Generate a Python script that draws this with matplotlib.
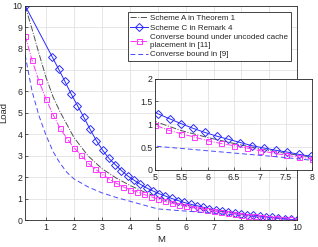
import matplotlib
matplotlib.use("Agg")
import matplotlib.pyplot as plt

plt.rcParams['font.family'] = ['Liberation Sans', 'DejaVu Sans']

# Scheme C in Remark 4 (diamonds)
m_c = [0.25, 1.225, 1.45, 1.675, 1.9, 2.125, 2.35, 2.575, 2.8, 3.025, 3.25,
       3.475, 3.7, 3.925, 4.15, 4.375, 4.6, 4.825, 5.05, 5.275, 5.5, 5.725,
       5.95, 6.175, 6.4, 6.625, 6.85, 7.075, 7.3, 7.525, 7.75, 7.975, 8.2,
       8.425, 8.65, 8.875, 9.1, 9.325, 9.55, 9.775, 10.0]
load_c = [10.0, 7.6, 7.04, 6.47, 5.88, 5.34, 4.8, 4.24, 3.71, 3.26, 2.88,
          2.59, 2.31, 2.06, 1.86, 1.67, 1.5, 1.36, 1.23, 1.12, 1.01, 0.91,
          0.82, 0.74, 0.67, 0.60, 0.53, 0.48, 0.43, 0.39, 0.34, 0.30, 0.26,
          0.23, 0.19, 0.16, 0.13, 0.10, 0.065, 0.03, 0.0]

# converse bound under uncoded placement [11] (squares)
m_u = [0.25, 0.5, 0.75, 1.0, 1.25, 1.5, 1.75, 2.0, 2.25, 2.5, 2.75, 3.0,
       3.25, 3.5, 3.75, 4.0, 4.25, 4.5, 4.75, 5.0, 5.25, 5.5, 5.75, 6.0,
       6.25, 6.5, 6.75, 7.0, 7.25, 7.5, 7.75, 8.0, 8.25, 8.5, 8.75, 9.0,
       9.25, 9.5, 9.75, 10.0]
load_u = [8.6, 7.45, 6.47, 5.64, 4.92, 4.29, 3.8, 3.38, 3.03, 2.67, 2.39, 2.15,
          1.92, 1.73, 1.56, 1.41, 1.32, 1.2, 1.09, 0.98, 0.87, 0.79, 0.72, 0.64,
          0.58, 0.53, 0.48, 0.42, 0.37, 0.32, 0.28, 0.24, 0.21, 0.18, 0.15, 0.12,
          0.09, 0.06, 0.03, 0.0]

# Scheme A in Theorem 1
m_a = [0.25, 0.5, 0.75, 1.0, 1.25, 1.5, 1.75, 2.0, 2.5, 3.0, 3.5, 4.0, 4.5,
       5.0, 5.5, 6.0, 6.5, 7.0, 7.5, 8.0, 8.5, 9.0, 9.5, 10.0]
load_a = [10.0, 8.9, 7.75, 6.65, 5.75, 5.05, 4.45, 3.85, 3.0, 2.4, 1.97, 1.62,
          1.32, 1.06, 0.86, 0.71, 0.58, 0.46, 0.36, 0.28, 0.21, 0.14, 0.07, 0.0]

# converse bound in [9]
m_b = [0.25, 0.5, 0.75, 1.0, 1.25, 1.5, 1.75, 2.0, 2.5, 3.0, 3.5, 4.0, 4.5,
       5.0, 5.5, 6.0, 6.5, 7.0, 7.5, 8.0, 8.5, 9.0, 9.5, 10.0]
load_b = [7.7, 6.0, 4.85, 3.95, 3.2, 2.65, 2.22, 1.92, 1.55, 1.27, 1.06, 0.88,
          0.7, 0.52, 0.47, 0.42, 0.37, 0.32, 0.27, 0.21, 0.16, 0.11, 0.05, 0.0]

labels = ['Scheme A in Theorem 1', 'Scheme C in Remark 4',
          'Converse bound under uncoded cache\nplacement in [11]',
          'Converse bound in [9]']

col_a = '#505050'
col_c = '#2a2aff'
col_u = '#ff33ff'
col_b = '#4a4aff'
txt = '#262626'


def draw(ax):
    ax.plot(m_a, load_a, '-.', color=col_a, lw=0.7, label=labels[0])
    ax.plot(m_c, load_c, '-', color=col_c, lw=0.7, marker='D', ms=3.6,
            mfc='none', mew=0.7, label=labels[1])
    ax.plot(m_u, load_u, '-.', color=col_u, lw=0.7, marker='s', ms=3.6,
            mfc='none', mew=0.7, label=labels[2])
    ax.plot(m_b, load_b, '--', color=col_b, lw=0.7, dashes=(5, 3), label=labels[3])


def style(ax):
    ax.grid(True, color='#dcdcdc', lw=0.5)
    ax.set_axisbelow(True)
    ax.tick_params(direction='in', length=2, width=0.5, labelsize=6.3,
                   colors=txt, pad=2)
    for s in ax.spines.values():
        s.set_color(txt)
        s.set_linewidth(0.6)


fig = plt.figure(figsize=(3.18, 2.47), dpi=100)
ax = fig.add_axes([0.079, 0.109, 0.856, 0.868])
draw(ax)
ax.set_xlim(0.25, 10)
ax.set_ylim(0, 10)
ax.set_xticks(range(1, 11))
ax.set_yticks(range(0, 11))
style(ax)
ax.set_xlabel('M', fontsize=6.8, color=txt, labelpad=2)
ax.set_ylabel('Load', fontsize=6.8, color=txt, labelpad=3)

leg = ax.legend(loc='upper right', bbox_to_anchor=(0.975, 0.97), fontsize=5.8,
                handlelength=2.2, handletextpad=0.3, borderpad=0.3,
                labelspacing=0.25, fancybox=False, framealpha=1,
                edgecolor=txt, borderaxespad=0)
leg.get_frame().set_linewidth(0.6)
for t in leg.get_texts():
    t.set_color(txt)

ins = fig.add_axes([0.488, 0.312, 0.494, 0.370])
draw(ins)
ins.set_xlim(5, 8)
ins.set_ylim(0, 2)
ins.set_xticks([5, 5.5, 6, 6.5, 7, 7.5, 8])
ins.set_xticklabels(['5', '5.5', '6', '6.5', '7', '7.5', '8'])
ins.set_yticks([0, 0.5, 1, 1.5, 2])
ins.set_yticklabels(['0', '0.5', '1', '1.5', '2'])
style(ins)

fig.savefig('out.png', dpi=100)
